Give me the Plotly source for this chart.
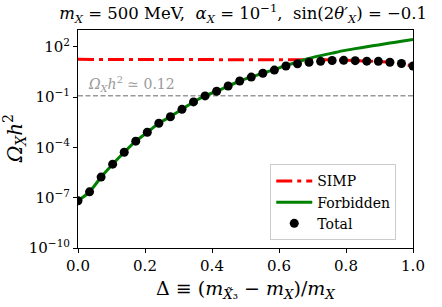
import numpy as np
import plotly.graph_objects as go

# Data (log10 of Omega h^2), 30 points on Delta in [0, 1]
delta = [i / 29 for i in range(30)]
log_simp = [1.25, 1.25, 1.25, 1.25, 1.25, 1.25, 1.25, 1.25, 1.25, 1.25,
            1.25, 1.25, 1.25, 1.25, 1.25, 1.25, 1.25, 1.25, 1.25, 1.25,
            1.25, 1.24, 1.22, 1.20, 1.18, 1.15, 1.12, 1.07, 0.99, 0.85]
log_forbidden = [-7.18, -6.65, -5.77, -5.00, -4.29, -3.63, -3.10, -2.56, -2.17, -1.73,
                 -1.29, -0.93, -0.65, -0.34, -0.04, 0.20, 0.42, 0.64, 0.88, 1.09,
                 1.30, 1.47, 1.62, 1.77, 1.89, 2.00, 2.11, 2.22, 2.33, 2.44]
log_total = [-7.18, -6.65, -5.77, -5.00, -4.29, -3.63, -3.10, -2.56, -2.17, -1.73,
             -1.29, -0.93, -0.65, -0.34, -0.04, 0.19, 0.42, 0.61, 0.85, 0.98,
             1.08, 1.13, 1.18, 1.19, 1.17, 1.14, 1.13, 1.08, 1.00, 0.85]
relic = 0.12
ytick_vals = [1e-10, 1e-7, 1e-4, 1e-1, 1e2]
ytick_text = ["10<sup>−10</sup>", "10<sup>−7</sup>", "10<sup>−4</sup>", "10<sup>−1</sup>", "10<sup>2</sup>"]
xtick_vals = [0.0, 0.2, 0.4, 0.6, 0.8, 1.0]
xtick_text = ["0.0", "0.2", "0.4", "0.6", "0.8", "1.0"]

simp = [10 ** v for v in log_simp]
forb = [10 ** v for v in log_forbidden]
total = [10 ** v for v in log_total]

FONT = "DejaVu Serif"

fig = go.Figure()
fig.add_trace(go.Scatter(x=[0, 1], y=[relic, relic], mode="lines",
                         line=dict(color="#999999", width=1.5, dash="5px,2.5px"),
                         showlegend=False, hoverinfo="skip"))
fig.add_trace(go.Scatter(x=delta, y=simp, mode="lines", name="SIMP",
                         line=dict(color="#ff0000", width=3, dash="16px,5px,4px,5px")))
fig.add_trace(go.Scatter(x=delta, y=forb, mode="lines", name="Forbidden",
                         line=dict(color="#008000", width=3, shape="spline", smoothing=0.6)))
fig.add_trace(go.Scatter(x=delta, y=total, mode="markers", name="Total",
                         marker=dict(color="black", size=9)))

fig.add_annotation(x=0.025, y=np.log10(relic), xref="x", yref="y",
                   text="<i>Ω<sub>X</sub>h</i><sup>2</sup> ≃ 0.12", showarrow=False,
                   xanchor="left", yanchor="bottom", yshift=0,
                   font=dict(family=FONT, size=14, color="#999999"))

# axis titles as annotations for precise placement
fig.add_annotation(x=-0.19, y=0.5, xref="paper", yref="paper",
                   text="<i>Ω<sub>X</sub>h</i><sup>2</sup>", showarrow=False, textangle=-90,
                   xanchor="center", yanchor="middle",
                   font=dict(family=FONT, size=20))
fig.add_annotation(x=0.5, y=-0.19, xref="paper", yref="paper",
                   text="Δ ≡ (<i>m</i><sub><i>X̃</i>₃</sub> − <i>m<sub>X</sub></i>)/<i>m<sub>X</sub></i>",
                   showarrow=False, xanchor="center", yanchor="middle",
                   font=dict(family=FONT, size=19))

fig.update_layout(
    width=442, height=307,
    margin=dict(l=78, r=29, t=30, b=59, autoexpand=False),
    paper_bgcolor="white", plot_bgcolor="white",
    font=dict(family=FONT, size=15, color="black"),
    title=dict(text="<i>m<sub>X</sub></i> = 500 MeV,  <i>α<sub>X</sub></i> = 10<sup>−1</sup>,  sin(2<i>θ′<sub>X</sub></i>) = −0.1",
               x=0.55, xanchor="center", y=0.975, yanchor="top",
               font=dict(family=FONT, size=16.5)),
    legend=dict(x=0.95, y=0.035, xanchor="right", yanchor="bottom",
                bordercolor="#cccccc", borderwidth=1, bgcolor="rgba(255,255,255,0.8)",
                font=dict(family=FONT, size=14), itemwidth=36, tracegroupgap=0),
)
fig.update_xaxes(range=[0, 1], tickvals=xtick_vals, ticktext=xtick_text, automargin=False,
                 showline=True, linecolor="black", linewidth=1, mirror=True,
                 ticks="outside", ticklen=4, tickcolor="black", showgrid=False, zeroline=False,
                 tickfont=dict(family=FONT, size=15))
fig.update_yaxes(type="log", range=[-10, 3], tickvals=ytick_vals, ticktext=ytick_text, automargin=False,
                 showline=True, linecolor="black", linewidth=1, mirror=True,
                 ticks="outside", ticklen=4, tickcolor="black", showgrid=False, zeroline=False,
                 tickfont=dict(family=FONT, size=15))

fig.write_html("out.html", config={"displayModeBar": False},
               post_script="document.body.style.margin='0';document.body.style.padding='0';")
